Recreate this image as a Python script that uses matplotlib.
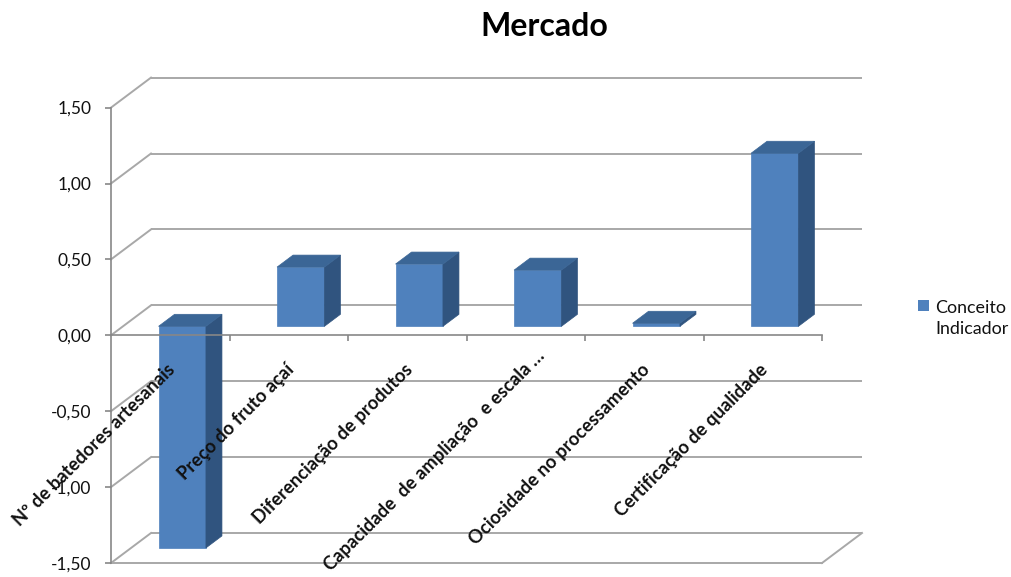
import matplotlib
matplotlib.use("Agg")
import matplotlib.pyplot as plt
from matplotlib.patches import Polygon, Rectangle
from matplotlib.ticker import FuncFormatter

plt.rcParams['font.family'] = ['Lato', 'DejaVu Sans']

categories = [
    "Nº de batedores artesanais",
    "Preço do fruto açaí",
    "Diferenciação de produtos",
    "Capacidade  de ampliação  e escala …",
    "Ociosidade no processamento",
    "Certificação de qualidade",
]
values = [-1.46, 0.39, 0.41, 0.37, 0.02, 1.14]
yticks = [-1.5, -1.0, -0.5, 0.0, 0.5, 1.0, 1.5]
series_name = "Conceito\nIndicador"

front_color = "#4F81BD"
top_color = "#3B6696"
side_color = "#30547F"
grid_color = "#A8A8A8"
axis_color = "#878787"

# oblique depth of the plot box, in data units (x: categories, y: values)
DX = 40 / 118.5
DY = 30 / 151.8
bar_w = 0.4
bar_front, bar_back = 0.3, 0.7   # bar position inside the depth

# the long label is pushed up along its own direction so it fits
label_push = [0, 0, 0, 20, 0, 0]   # pixels

fig = plt.figure(figsize=(10.11, 5.77), dpi=100)
ax = fig.add_axes([111 / 1011, 14 / 577, 711 / 1011, 455.4 / 577])
ax.set_xlim(0, len(categories))
ax.set_ylim(-1.5, 1.5)
ax.patch.set_alpha(0)

# back wall, side wall and floor lines
for v in yticks:
    ax.plot([DX, len(categories) + DX], [v + DY, v + DY], color=grid_color,
            lw=1.4, clip_on=False, zorder=1, solid_capstyle='butt')
    ax.plot([0, DX], [v, v + DY], color=grid_color, lw=1.4, clip_on=False, zorder=1)
ymin = yticks[0]
ax.plot([0, len(categories)], [ymin, ymin], color=grid_color, lw=1.4,
        clip_on=False, zorder=1)
ax.plot([len(categories), len(categories) + DX], [ymin, ymin + DY],
        color=grid_color, lw=1.4, clip_on=False, zorder=1)

# bars: front face plus side and top faces
ddx = (bar_back - bar_front) * DX
ddy = (bar_back - bar_front) * DY
base = bar_front * DY
for i, v in enumerate(values):
    left = i + 0.5 - bar_w / 2 + bar_front * DX
    right = left + bar_w
    ax.bar(left, v, width=bar_w, bottom=base, align='edge', color=front_color,
           edgecolor=front_color, lw=0.5, zorder=2, clip_on=False)
    lo, hi = min(base, base + v), max(base, base + v)
    ax.add_patch(Polygon([(right, lo), (right + ddx, lo + ddy),
                          (right + ddx, hi + ddy), (right, hi)],
                         closed=True, fc=side_color, ec=side_color, lw=0.5,
                         zorder=2, clip_on=False))
    ax.add_patch(Polygon([(left, hi), (right, hi), (right + ddx, hi + ddy),
                          (left + ddx, hi + ddy)],
                         closed=True, fc=top_color, ec=top_color, lw=0.5,
                         zorder=2, clip_on=False))

# axes
for s in ['top', 'right']:
    ax.spines[s].set_visible(False)
ax.spines['left'].set_color(axis_color)
ax.spines['bottom'].set_color(axis_color)
ax.spines['left'].set_linewidth(1.2)
ax.spines['bottom'].set_linewidth(1.2)
ax.spines['bottom'].set_position(('data', 0))
ax.spines['bottom'].set_zorder(3)

ax.set_yticks(yticks)
ax.yaxis.set_major_formatter(FuncFormatter(lambda v, _: f"{v:.2f}".replace('.', ',')))
ax.tick_params(axis='y', direction='out', length=4, width=1.2, color=axis_color,
               labelsize=12.5, pad=10, labelcolor='#111111')
ax.set_xticks(range(1, len(categories) + 1))
ax.tick_params(axis='x', direction='out', length=4, width=1.2, color=axis_color,
               labelbottom=False)

for i, name in enumerate(categories):
    px = label_push[i] * 0.7071
    ax.text(i + 0.5 + 0.02 + px / 118.5, -0.21 + px / 151.8, name,
            rotation=45, rotation_mode='anchor', ha='right', va='center',
            fontsize=13.2, fontweight='bold', color='#111111', zorder=5)

# title and legend
fig.text(0.5386, 1 - 27 / 577, "Mercado", ha='center', va='center',
         fontsize=23, fontweight='bold')
fig.patches.append(Rectangle((918 / 1011, 1 - 311 / 577), 11 / 1011, 11 / 577,
                             transform=fig.transFigure, fc=front_color, ec='none'))
fig.text(935 / 1011, 1 - 300 / 577, series_name, ha='left', va='top',
         fontsize=12.9, linespacing=1.35, color='#111111')

fig.savefig("out.png", dpi=100)
